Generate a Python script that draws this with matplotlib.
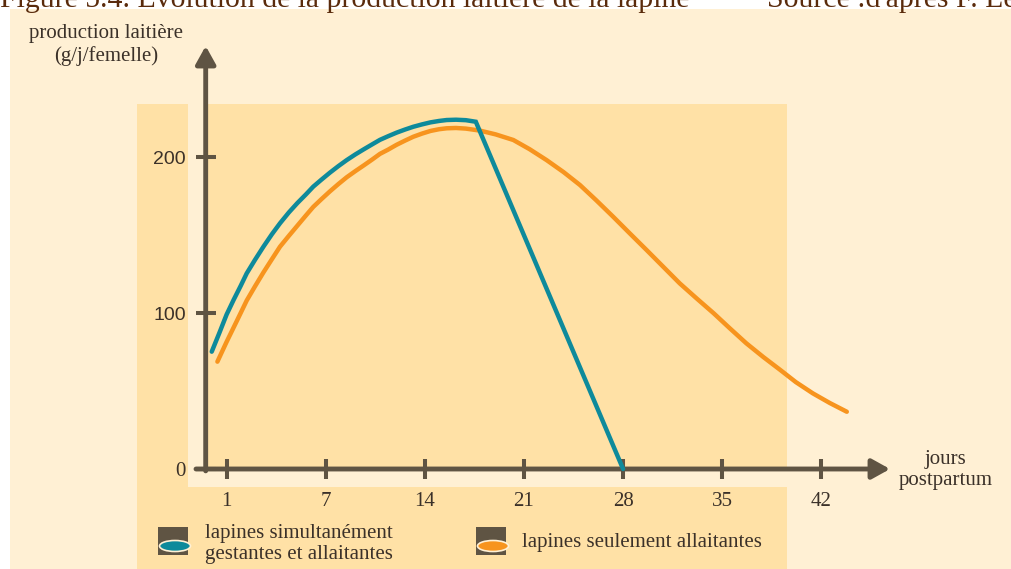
import matplotlib
matplotlib.use("Agg")
import matplotlib.pyplot as plt
from matplotlib.patches import Rectangle, Ellipse

# ---------------- data ----------------
teal_days = [-1.05, -0.5, 0.0, 0.5, 1.0, 1.42, 2.0, 2.6, 3.2, 3.77, 4.4, 5.0,
             5.6, 6.12, 6.7, 7.3, 7.9, 8.48, 9.1, 9.7, 10.3, 10.83, 11.4,
             12.0, 12.6, 13.19, 13.8, 14.4, 15.0, 15.54, 16.2, 16.9, 17.6,
             28.0]
teal_vals = [75.2, 87.5, 99.0, 108.5, 117.5, 125.4, 134.0, 142.5, 150.5,
             157.5, 164.5, 170.5, 176.0, 181.0, 185.5, 190.0, 194.2, 198.0,
             201.7, 205.0, 208.2, 211.0, 213.3, 215.6, 217.6, 219.4, 220.9,
             222.2, 223.1, 223.7, 223.9, 223.6, 222.6, 0.0]

orange_days = [-0.65, 0.0, 0.7, 1.42, 2.0, 2.6, 3.2, 3.77, 4.4, 5.0, 5.6,
               6.12, 6.7, 7.3, 7.9, 8.48, 9.1, 9.7, 10.3, 10.83, 11.4, 12.0,
               12.6, 13.19, 13.8, 14.4, 15.0, 15.54, 16.2, 16.9, 17.9, 19.0,
               20.25, 21.4, 22.6, 23.8, 24.96, 26.1, 27.3, 28.5, 29.7, 30.85,
               32.0, 33.2, 34.4, 35.5, 36.7, 37.9, 39.1, 40.2, 41.4, 42.6,
               43.8]
orange_vals = [68.8, 81.5, 94.5, 108.0, 117.0, 126.0, 134.5, 142.5, 149.5,
               156.0, 162.5, 168.0, 173.0, 178.0, 182.7, 187.0, 191.0, 194.7,
               198.5, 202.0, 204.7, 207.8, 210.5, 213.0, 215.0, 216.7, 217.8,
               218.4, 218.6, 218.2, 216.9, 214.5, 210.9, 205.0, 198.0, 190.3,
               182.0, 172.3, 161.7, 150.8, 140.0, 129.5, 119.0, 109.3, 99.8,
               90.5, 80.6, 71.8, 63.5, 55.7, 48.5, 42.3, 36.7]

x_tick_pos = [0, 7, 14, 21, 28, 35, 42]
x_tick_labels = ["1", "7", "14", "21", "28", "35", "42"]
y_tick_pos = [0, 100, 200]
y_tick_labels = ["0", "100", "200"]

series_labels = ["lapines simultanément\ngestantes et allaitantes",
                 "lapines seulement allaitantes"]
title_left = "Figure 5.4. Évolution de la production laitière de la lapine"
title_right = "Source :d'après F. Lebas"
ylabel = "production laitière\n(g/j/femelle)"
xlabel = "jours\npostpartum"

# ---------------- style ----------------
W, H = 1012, 569
cream = "#fff0d4"
panel = "#ffe1a6"
axc = "#5f5443"
txt = "#3b3129"
teal = "#0e8a9b"
orange = "#f7941e"
serif = ["Liberation Serif", "DejaVu Serif"]
sans = ["Liberation Sans", "DejaVu Sans"]

fig = plt.figure(figsize=(W / 100, H / 100), dpi=100, facecolor="white")


def frect(x0, y0, x1, y1, color, z=0):
    r = Rectangle((x0 / W, 1 - y1 / H), (x1 - x0) / W, (y1 - y0) / H,
                  transform=fig.transFigure, facecolor=color, edgecolor="none",
                  zorder=z)
    fig.add_artist(r)


frect(10, 9, W, H, cream)
frect(137, 104, 787, H, panel)
frect(188, 104, 787, 487, cream)
frect(206, 104, 787, 469, panel)

# axes mapping: px = 226.6 + 14.16*d ; py = 469 - 1.56*v
px0, pxs = 226.6, 14.16
py0, pys = 469.0, 1.56
ax = fig.add_axes([0, 0, 1, 1])
ax.set_facecolor("none")
ax.set_xlim((0 - px0) / pxs, (W - px0) / pxs)
ax.set_ylim((py0 - H) / pys, py0 / pys)
ax.set_zorder(2)

yaxis_d = (205.7 - px0) / pxs
ax.spines["left"].set_position(("data", yaxis_d))
ax.spines["bottom"].set_position(("data", 0))
for s in ["top", "right", "left", "bottom"]:
    ax.spines[s].set_visible(False)

ax.set_xticks(x_tick_pos)
ax.set_xticklabels(x_tick_labels, fontfamily=serif, fontsize=15, color=txt)
ax.set_yticks(y_tick_pos)
ax.set_yticklabels(y_tick_labels, fontsize=14, color=txt)
for lab, t in zip(ax.get_yticklabels(), y_tick_labels):
    lab.set_fontfamily(serif if t == "0" else sans)
    if t == "0":
        lab.set_fontsize(15)
ax.tick_params(axis="both", direction="inout", length=14.4, width=2.9,
               color=axc)
ax.tick_params(axis="x", pad=9)
ax.tick_params(axis="y", pad=7)

# axis lines with arrows
arrow_style = "-|>,head_length=0.9,head_width=0.5"
ax.annotate("", xy=((890 - px0) / pxs, 0), xytext=((196 - px0) / pxs, 0),
            arrowprops=dict(arrowstyle=arrow_style, lw=3.5, color=axc,
                            shrinkA=0, shrinkB=0, mutation_scale=12),
            zorder=3)
ax.annotate("", xy=(yaxis_d, (py0 - 46) / pys), xytext=(yaxis_d, -1.2),
            arrowprops=dict(arrowstyle=arrow_style, lw=3.5, color=axc,
                            shrinkA=0, shrinkB=0, mutation_scale=12),
            zorder=3)

# curves
ax.plot(orange_days, orange_vals, color=orange, lw=3.2,
        solid_capstyle="round", solid_joinstyle="round", zorder=4)
ax.plot(teal_days, teal_vals, color=teal, lw=3.2,
        solid_capstyle="round", solid_joinstyle="miter", zorder=5)


# texts (figure pixel positions)
def ftext(x, y, s, **kw):
    fig.text(x / W, 1 - y / H, s, **kw)


ftext(0, 7, title_left, fontfamily=serif, fontsize=21.4, color="#5a2b0c",
      ha="left", va="baseline")
ftext(767, 7, title_right, fontfamily=serif, fontsize=21.4, color="#5a2b0c",
      ha="left", va="baseline")
ftext(106, 45, ylabel, fontfamily=serif, fontsize=15, color=txt,
      ha="center", va="center", linespacing=1.25)
ftext(946, 470, xlabel, fontfamily=serif, fontsize=15, color=txt,
      ha="center", va="center", linespacing=1.15)

# legend
for (bx, tx, ty, col, lab) in [(158, 205, 544, teal, series_labels[0]),
                               (476, 522, 543, orange, series_labels[1])]:
    frect(bx, 527, bx + 30, 555, axc, z=3)
    e = Ellipse(((bx + 17) / W, 1 - 546 / H), 31 / W, 11 / H,
                transform=fig.transFigure, facecolor=col, edgecolor=cream,
                lw=1.2, zorder=4)
    fig.add_artist(e)
    ftext(tx, ty, lab, fontfamily=serif, fontsize=15, color=txt,
          ha="left", va="center", linespacing=1.15)

fig.savefig("out.png", dpi=100, facecolor="white")
